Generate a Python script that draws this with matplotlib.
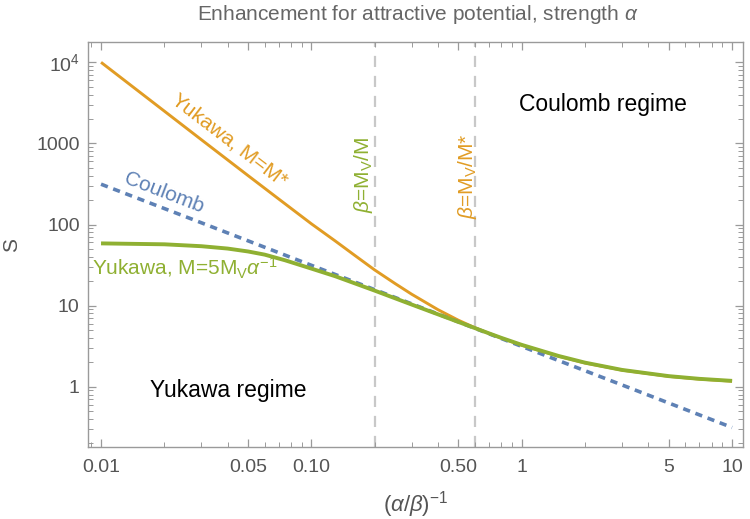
import matplotlib
matplotlib.use("Agg")
import matplotlib.pyplot as plt
from matplotlib.ticker import FixedLocator, FixedFormatter, LogLocator, NullFormatter

plt.rcParams['font.family'] = ['Liberation Sans', 'DejaVu Sans']
plt.rcParams['mathtext.fontset'] = 'custom'
plt.rcParams['mathtext.rm'] = 'Liberation Sans'
plt.rcParams['mathtext.it'] = 'Liberation Sans:italic'
plt.rcParams['mathtext.bf'] = 'Liberation Sans:bold'

# ---- data ----
coulomb_x = [0.01, 0.03, 0.1, 0.3, 1, 3, 10]
coulomb_y = [314, 105, 31.4, 10.5, 3.14, 1.05, 0.314]

yuk_star_x = [0.01, 0.02, 0.03, 0.05, 0.07, 0.1, 0.13, 0.16, 0.2, 0.25, 0.3,
              0.4, 0.5, 0.6, 0.7, 0.8, 1.0, 1.5, 2, 3, 5, 7, 10]
yuk_star_y = [10000, 2500, 1110, 401, 206, 102, 62.5, 42, 27.5, 18.7, 13.8,
              8.9, 6.6, 5.33, 4.53, 3.97, 3.25, 2.37, 1.96, 1.6, 1.34, 1.24, 1.17]

yuk5_x = [0.01, 0.02, 0.03, 0.04, 0.05, 0.06, 0.075, 0.1, 0.13, 0.2, 0.3,
          0.4, 0.6, 0.7, 0.8, 1.0, 1.5, 2, 3, 5, 7, 10]
yuk5_y = [58.5, 57, 54, 50.5, 46.5, 42.5, 36.2, 28.6, 23, 15.3, 10.3,
          7.8, 5.27, 4.54, 4.0, 3.28, 2.39, 1.98, 1.61, 1.35, 1.25, 1.18]

vlines_x = [0.2, 0.6]

x_ticks = [0.01, 0.05, 0.1, 0.5, 1, 5, 10]
x_ticklabels = ["0.01", "0.05", "0.10", "0.50", "1", "5", "10"]
y_ticks = [1, 10, 100, 1000, 10000]
y_ticklabels = ["1", "10", "100", "1000", r"$10^4$"]

BLUE = "#5E81B5"
ORANGE = "#E19C24"
GREEN = "#8FB032"
FRAME = "#9a9a9a"
TXT = "#555555"

fig = plt.figure(figsize=(7.5, 5.19), dpi=100)
ax = fig.add_axes([88/750, 1-447/519, (743-88)/750, (447-42)/519])
ax.set_xscale('log')
ax.set_yscale('log')
ax.set_xlim(0.00867, 11.27)
ax.set_ylim(0.1805, 17800)

for xv in vlines_x:
    ax.axvline(xv, color="#c8c8c8", lw=1.6, dashes=(5, 4), zorder=1)

ax.plot(yuk_star_x, yuk_star_y, color=ORANGE, lw=2.1, zorder=2,
        solid_capstyle='butt')
ax.plot(coulomb_x, coulomb_y, color=BLUE, lw=2.6, dashes=(2.0, 1.6), zorder=3)
ax.plot(yuk5_x, yuk5_y, color=GREEN, lw=2.8, zorder=4, solid_capstyle='butt')

# axes styling
for s in ax.spines.values():
    s.set_color(FRAME)
    s.set_linewidth(1.0)
ax.xaxis.set_major_locator(FixedLocator(x_ticks))
ax.xaxis.set_major_formatter(FixedFormatter(x_ticklabels))
ax.xaxis.set_minor_locator(LogLocator(base=10, subs=[1, 2, 3, 4, 6, 7, 8, 9]))
ax.xaxis.set_minor_formatter(NullFormatter())
ax.yaxis.set_major_locator(FixedLocator(y_ticks))
ax.yaxis.set_major_formatter(FixedFormatter(y_ticklabels))
ax.yaxis.set_minor_locator(LogLocator(base=10, subs=[2, 3, 4, 5, 6, 7, 8, 9]))
ax.yaxis.set_minor_formatter(NullFormatter())
ax.tick_params(which='both', direction='in', top=True, right=True,
               color=FRAME, labelcolor=TXT, labelsize=14)
ax.tick_params(axis='x', which='major', length=6, width=0.9, pad=9)
ax.tick_params(axis='y', which='major', length=6, width=0.9, pad=6)
ax.tick_params(which='minor', length=3.5, width=0.7)
ax.tick_params(top=True, right=True, labeltop=False, labelright=False)

ax.set_xlabel(r"$(\alpha/\beta)^{-1}$", color=TXT, fontsize=16)
ax.xaxis.label.set_va('center')
ax.xaxis.set_label_coords(0.5, -0.143)
ax.set_ylabel("S", color=TXT, fontsize=15)
ax.yaxis.label.set_va('center')
ax.yaxis.set_label_coords(-0.116, 0.5)

fig.text(418/750, 1-14/519, r"Enhancement for attractive potential, strength $\alpha$",
         ha='center', va='center', color="#666666", fontsize=15)

# annotations
ax.text(0.0407, 1100, "Yukawa, M=M*", color=ORANGE, fontsize=15,
        rotation=-37.5, ha='center', va='center', rotation_mode='anchor')
ax.text(0.020, 243, "Coulomb", color=BLUE, fontsize=15,
        rotation=-21, ha='center', va='center', rotation_mode='anchor')
ax.text(0.0091, 29.1, r"Yukawa, M=5M$_\mathrm{V}\alpha^{-1}$", color=GREEN,
        fontsize=15, ha='left', va='center')
ax.text(0.1766, 405, r"$\beta$=M$_\mathrm{V}$/M", color=GREEN, fontsize=15,
        rotation=90, ha='center', va='center')
ax.text(0.552, 396, r"$\beta$=M$_\mathrm{V}$/M*", color=ORANGE, fontsize=15,
        rotation=90, ha='center', va='center')
ax.text(2.44, 2980, "Coulomb regime", color="black", fontsize=16.5,
        ha='center', va='center')
ax.text(0.0403, 0.91, "Yukawa regime", color="black", fontsize=16.5,
        ha='center', va='center')

fig.savefig("out.png", dpi=100)
